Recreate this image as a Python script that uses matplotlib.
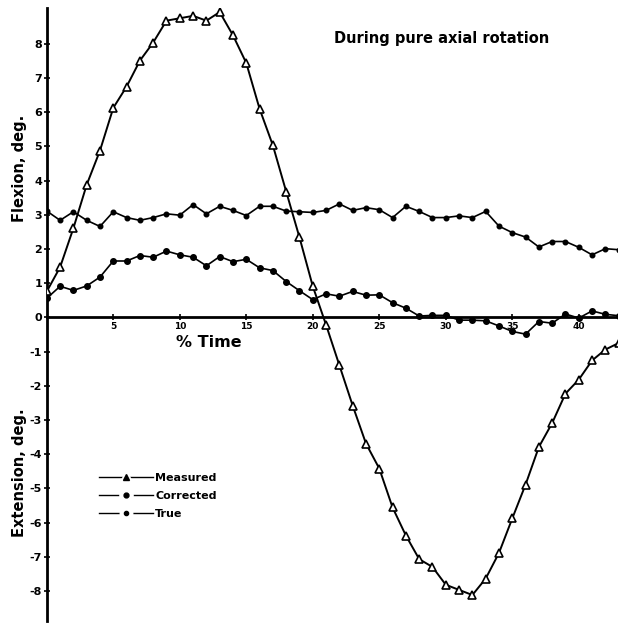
#!/usr/bin/python

import matplotlib
matplotlib.use('Agg')
import matplotlib.pyplot as plt
from matplotlib.lines import Line2D

# % time, one sample per percent
pct_time = list(range(44))

measured = [0.76, 1.47, 2.61, 3.88, 4.88, 6.13, 6.75, 7.51, 8.04, 8.68,
            8.75, 8.82, 8.68, 8.93, 8.25, 7.44, 6.10, 5.03, 3.68, 2.34,
            0.91, -0.22, -1.40, -2.58, -3.69, -4.42, -5.56, -6.38, -7.07, -7.30,
            -7.82, -7.97, -8.12, -7.64, -6.89, -5.88, -4.89, -3.79, -3.09, -2.23,
            -1.82, -1.26, -0.94, -0.75]

corrected = [0.56, 0.91, 0.79, 0.92, 1.18, 1.65, 1.65, 1.81, 1.76, 1.94,
             1.83, 1.76, 1.51, 1.78, 1.63, 1.70, 1.45, 1.37, 1.05, 0.78,
             0.52, 0.69, 0.62, 0.76, 0.65, 0.66, 0.43, 0.27, 0.04, 0.06,
             0.06, -0.08, -0.08, -0.10, -0.25, -0.41, -0.49, -0.12, -0.17, 0.10,
             -0.02, 0.19, 0.09, 0.05]

true = [3.11, 2.84, 3.09, 2.84, 2.66, 3.09, 2.92, 2.84, 2.92, 3.03,
        2.99, 3.30, 3.03, 3.25, 3.13, 2.98, 3.25, 3.25, 3.11, 3.09,
        3.07, 3.13, 3.32, 3.13, 3.21, 3.15, 2.92, 3.25, 3.10, 2.92,
        2.92, 2.97, 2.92, 3.10, 2.67, 2.48, 2.35, 2.06, 2.22, 2.22,
        2.05, 1.83, 2.01, 1.98]

x_ticks = [5, 10, 15, 20, 25, 30, 35, 40]
y_ticks = [-8, -7, -6, -5, -4, -3, -2, -1, 0, 1, 2, 3, 4, 5, 6, 7, 8]

W, H = 618, 624
fig = plt.figure(figsize=(W / 100.0, H / 100.0), dpi=100)
ax = fig.add_axes([46.8 / W, 3.0 / H, 1 - 46.8 / W, (621.0 - 8.0) / H])

ax.plot(pct_time, true, '-', color='black', linewidth=1.2,
        marker='o', markersize=3.3, markerfacecolor='black', zorder=3)
ax.plot(pct_time, corrected, '-', color='black', linewidth=1.2,
        marker='o', markersize=4.0, markerfacecolor='black', zorder=3)
ax.plot(pct_time, measured, '-', color='black', linewidth=1.4,
        marker='^', markersize=5.5, markerfacecolor='white',
        markeredgecolor='black', markeredgewidth=1.2, zorder=4)

ax.set_xlim(0, 42.95)
ax.set_ylim(-8.88, 9.05)

# axes through the origin, like the hand drawn original
ax.spines['left'].set_position(('data', 0))
ax.spines['bottom'].set_position(('data', 0))
ax.spines['right'].set_visible(False)
ax.spines['top'].set_visible(False)
ax.spines['left'].set_linewidth(2.0)
ax.spines['bottom'].set_linewidth(2.0)

ax.set_xticks(x_ticks)
ax.set_xticklabels([str(t) for t in x_ticks], fontsize=6.5, fontweight='bold')
ax.set_yticks(y_ticks)
ax.set_yticklabels([str(t) for t in y_ticks], fontsize=8, fontweight='bold')
ax.tick_params(axis='x', direction='inout', length=5, width=1.2, pad=1)
ax.tick_params(axis='y', direction='inout', length=5, width=1.2, pad=1)

ax.text(12.2, -0.74, '% Time', fontsize=11.5, fontweight='bold',
        ha='center', va='center')
ax.text(29.7, 8.17, 'During pure axial rotation', fontsize=10.5,
        fontweight='bold', ha='center', va='center')

fig.text(20.0 / W, 1 - 168.0 / H, 'Flexion, deg.', rotation=90,
         fontsize=10.5, fontweight='bold', ha='center', va='center')
fig.text(20.0 / W, 1 - 473.0 / H, 'Extension, deg.', rotation=90,
         fontsize=10.5, fontweight='bold', ha='center', va='center')

# legend: line broken by a white blob, black marker on top of it
def legend_handle(marker, size):
    gap = Line2D([], [], color='black', linewidth=1.0, marker=marker,
                 markersize=size + 6, markerfacecolor='white',
                 markeredgecolor='white')
    mark = Line2D([], [], linestyle='none', marker=marker, markersize=size,
                  markerfacecolor='black', markeredgecolor='black')
    return (gap, mark)

handles = [legend_handle('^', 4.5), legend_handle('o', 3.5),
           legend_handle('o', 3.0)]
labels = ['Measured', 'Corrected', 'True']
leg = fig.legend(handles, labels, loc='upper left',
                 bbox_to_anchor=(93.0 / W, 1 - 467.0 / H),
                 frameon=False, borderpad=0, handlelength=4.9,
                 handletextpad=0.2, labelspacing=0.75,
                 prop={'size': 8, 'weight': 'bold'})

fig.savefig('out.png', dpi=100)
